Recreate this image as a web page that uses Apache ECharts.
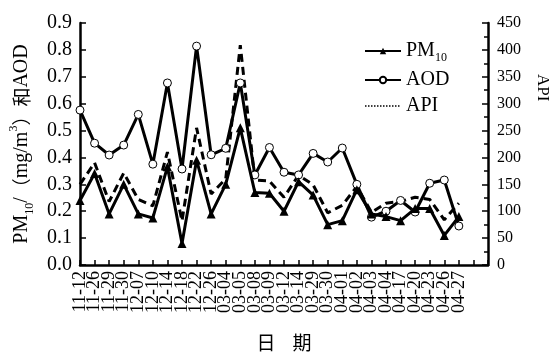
<!DOCTYPE html>
<html>
<head>
<meta charset="utf-8">
<script src="https://cdn.jsdelivr.net/npm/echarts@6/dist/echarts.min.js"></script>
<style>
  html, body { margin: 0; padding: 0; background: #fff; }
  #main { width: 556px; height: 355px; }
</style>
</head>
<body>
<div id="main"></div>
<script>
// dates (x categories)
var dates = ['11-12', '11-26', '11-29', '11-30', '12-07', '12-10', '12-14', '12-18', '12-22', '12-26',
  '03-04', '03-05', '03-08', '03-09', '03-12', '03-14', '03-29', '03-30', '04-01', '04-02',
  '04-03', '04-04', '04-17', '04-20', '04-23', '04-26', '04-27'];

// PM10 (mg/m3), left axis
var pm10 = [0.24, 0.34, 0.19, 0.30, 0.19, 0.175, 0.365, 0.08, 0.39, 0.19,
  0.30, 0.51, 0.27, 0.267, 0.20, 0.31, 0.26, 0.15, 0.165, 0.28,
  0.19, 0.18, 0.165, 0.21, 0.21, 0.11, 0.18];

// AOD, left axis
var aod = [0.576, 0.453, 0.409, 0.446, 0.56, 0.375, 0.677, 0.357, 0.814, 0.41,
  0.434, 0.677, 0.335, 0.437, 0.345, 0.335, 0.415, 0.383, 0.435, 0.30,
  0.178, 0.20, 0.24, 0.197, 0.304, 0.316, 0.145];

// API, right axis
var api = [150, 190, 118, 171, 122, 110, 210, 82, 255, 132,
  160, 409, 158, 156, 126, 167, 149, 97, 111, 146,
  98, 115, 118, 126, 122, 84, 115];

var serif = '"Liberation Serif", "Times New Roman", serif';
var cjk = '"Noto Sans CJK SC", sans-serif';

var chart = echarts.init(document.getElementById('main'));

var option = {
  animation: false,
  backgroundColor: '#fff',
  grid: { left: 80, right: 68, top: 23, bottom: 90, containLabel: false, outerBoundsMode: 'none' },
  legend: {
    orient: 'vertical',
    left: 359,
    top: 36,
    itemWidth: 36,
    itemHeight: 8,
    itemGap: 6,
    textStyle: {
      fontFamily: serif, fontSize: 20, color: '#000',
      rich: {
        sub: { fontFamily: serif, fontSize: 12, color: '#000', verticalAlign: 'bottom', lineHeight: 26 }
      }
    },
    formatter: function (name) {
      return name === 'PM10' ? 'PM{sub|10}' : name;
    },
    data: [
      { name: 'PM10' },
      { name: 'AOD' },
      { name: 'API', itemStyle: { opacity: 0 }, lineStyle: { type: 'dotted', width: 1.5, color: '#000' } }
    ]
  },
  xAxis: {
    type: 'category',
    data: dates,
    boundaryGap: false,
    max: 27.8,
    name: '日    期',
    nameLocation: 'middle',
    nameGap: 68,
    nameTextStyle: { fontFamily: cjk, fontSize: 19, color: '#000' },
    axisLine: { lineStyle: { color: '#000', width: 2.5 } },
    axisTick: { inside: true, length: 5, interval: 0, lineStyle: { color: '#000', width: 1.5 } },
    minorTick: { show: true, splitNumber: 2, length: 3, lineStyle: { color: '#000', width: 1.5 } },
    splitLine: { show: false },
    axisLabel: {
      rotate: 90,
      margin: 6,
      interval: 0,
      fontFamily: serif,
      fontSize: 18,
      lineHeight: 12,
      color: '#000'
    }
  },
  yAxis: [
    {
      type: 'value',
      min: 0,
      max: 0.9,
      interval: 0.1,
      name: '{t|PM}{sub|10}{t|/}{c|（}{t|mg/m}{sup|3}{c|）和}{t|AOD}',
      nameLocation: 'middle',
      nameGap: 43,
      nameTextStyle: {
        color: '#000',
        rich: {
          t: { fontFamily: serif, fontSize: 20, color: '#000' },
          c: { fontFamily: cjk, fontSize: 19, color: '#000' },
          sub: { fontFamily: serif, fontSize: 12, color: '#000', verticalAlign: 'bottom', lineHeight: 28 },
          sup: { fontFamily: serif, fontSize: 12, color: '#000', verticalAlign: 'top', lineHeight: 24 }
        }
      },
      axisLine: { show: true, lineStyle: { color: '#000', width: 2.5 } },
      axisTick: { show: true, inside: true, length: 6, lineStyle: { color: '#000', width: 1.5 } },
      splitLine: { show: false },
      axisLabel: {
        margin: 8,
        fontFamily: serif,
        fontSize: 20,
        color: '#000',
        formatter: function (v) { return v.toFixed(1); }
      }
    },
    {
      type: 'value',
      min: 0,
      max: 450,
      interval: 50,
      position: 'right',
      axisLine: { show: true, lineStyle: { color: '#000', width: 2.5 } },
      axisTick: { show: true, inside: true, length: 6, lineStyle: { color: '#000', width: 1.5 } },
      minorTick: { show: true, splitNumber: 2, length: 4, lineStyle: { color: '#000', width: 1.5 } },
      splitLine: { show: false },
      axisLabel: { margin: 9, fontFamily: serif, fontSize: 16, color: '#000' }
    }
  ],
  graphic: [
    {
      type: 'text',
      x: 551,
      y: 74,
      rotation: -Math.PI / 2,
      style: { text: 'API', fontFamily: serif, fontSize: 17, fill: '#000' }
    }
  ],
  series: [
    {
      name: 'API',
      type: 'line',
      yAxisIndex: 1,
      data: api,
      symbol: 'none',
      lineStyle: { color: '#000', width: 3, type: [8, 5] },
      itemStyle: { color: '#000' },
      z: 2
    },
    {
      name: 'AOD',
      type: 'line',
      yAxisIndex: 0,
      data: aod,
      symbol: 'circle',
      symbolSize: 8,
      lineStyle: { color: '#000', width: 3 },
      itemStyle: { color: '#fff', borderColor: '#000', borderWidth: 1 },
      z: 3
    },
    {
      name: 'PM10',
      type: 'line',
      yAxisIndex: 0,
      data: pm10,
      symbol: 'triangle',
      symbolSize: 9,
      lineStyle: { color: '#000', width: 3 },
      itemStyle: { color: '#000' },
      z: 4
    }
  ]
};

chart.setOption(option);
</script>
</body>
</html>
